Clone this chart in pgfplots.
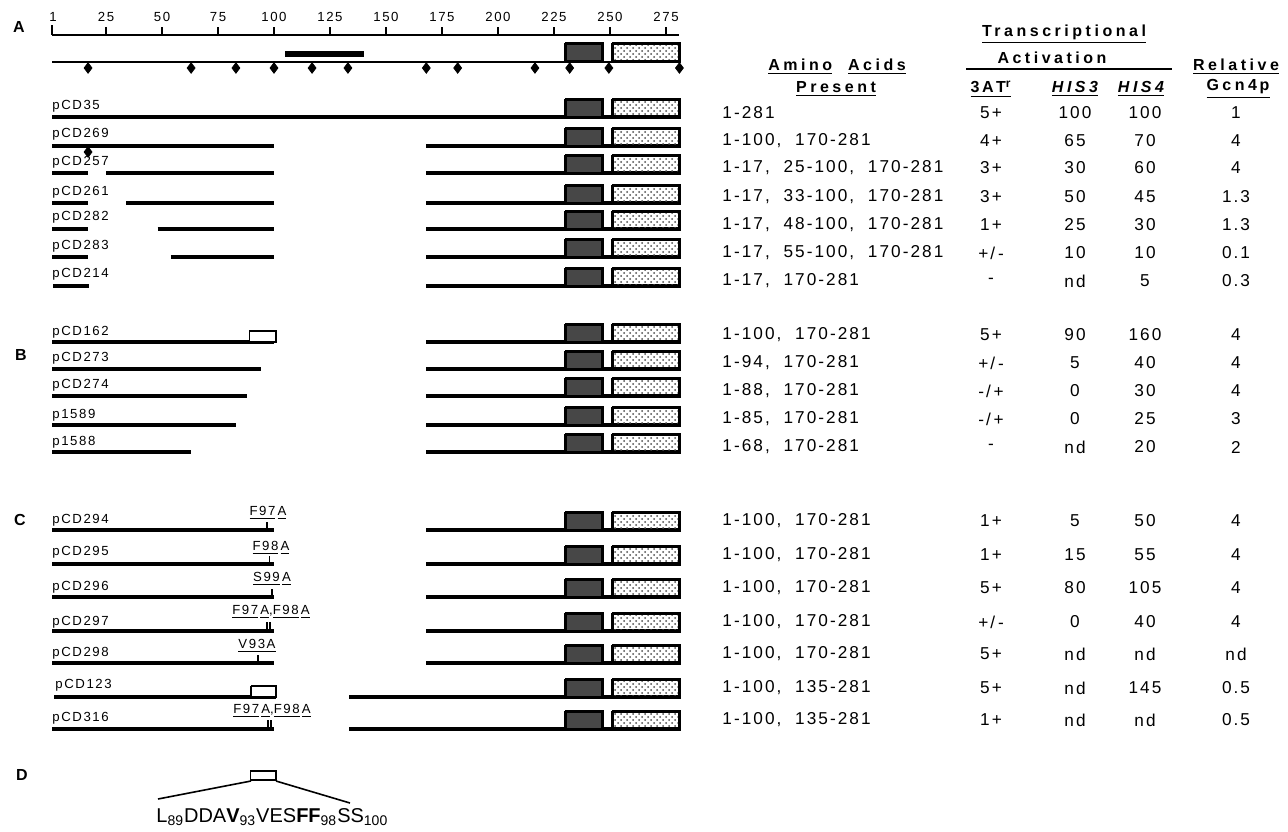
\documentclass[border=0pt]{standalone}
\usepackage{fontspec}
\setmainfont{Liberation Sans}
\newfontfamily\lsf[LetterSpace=12]{Liberation Sans}
\newfontfamily\wsf[LetterSpace=22]{Liberation Sans}
\newcommand\tabf{\lsf\fontsize{8.6}{9}\selectfont}
\usepackage{pgfplots}
\pgfplotsset{compat=1.18}
\usetikzlibrary{patterns}

% one segment of a construct (amino-acid units)
\newcommand\seg[3]{\addplot[seg] coordinates {(#1,#3) (#2,#3)};}
% the two C-terminal domains: top y, bottom y
\newcommand\dom[2]{%
  \addplot[aa, draw=black, line width=1.5pt, line join=miter, fill=black!72] coordinates {(230,#1) (246.5,#1) (246.5,#2) (230,#2) (230,#1)};
  \addplot[aa, draw=black, line width=1.5pt, line join=miter, pattern=crosshatch dots, pattern color=black!70] coordinates {(251,#1) (281,#1) (281,#2) (251,#2) (251,#1)};}
% open box 89-100
\newcommand\obox[3]{\addplot[aa, draw=black, line width=0.8pt, fill=white] coordinates {(#1,#2) (101,#2) (101,#3) (#1,#3) (#1,#2)};}
% mutation tick
\newcommand\mut[3]{\addplot[aa, black, line width=0.8pt] coordinates {(#1,#2) (#1,#3)};}
\newcommand\lab[2]{\node[anchor=west, inner sep=0pt, font=\lsf\fontsize{6.6}{7}\selectfont] at (axis cs:52,#1) {#2};}
\newcommand\trow[6]{%
  \node[anchor=west, inner sep=0pt, font=\tabf] at (axis cs:722,#1) {#2};
  \node[inner sep=0pt, font=\tabf] at (axis cs:991,#1) {#3};
  \node[inner sep=0pt, font=\tabf] at (axis cs:1075,#1) {#4};
  \node[inner sep=0pt, font=\tabf] at (axis cs:1145,#1) {#5};
  \node[inner sep=0pt, font=\tabf] at (axis cs:1236,#1) {#6};}

\begin{document}
\begin{tikzpicture}
\begin{axis}[
  scale only axis, width=644pt, height=415.5pt,
  xmin=0, xmax=1288, ymin=0, ymax=831, y dir=reverse,
  axis lines=none, clip=false,
  aa/.style={x filter/.expression={50+2.24*x}},
  seg/.style={aa, black, line width=1.8pt, line cap=butt},
]
% ---------------- ruler ----------------
\addplot[aa, black, line width=0.9pt] coordinates {(1,35) (281,35)};
\addplot[aa, black, line width=0.9pt] coordinates {(1,25) (1,35)};
\pgfplotsinvokeforeach{25,50,75,100,125,150,175,200,225,250,275}{
  \addplot[aa, black, line width=0.9pt] coordinates {(#1,27) (#1,35)};
  \node[inner sep=0pt, font=\lsf\fontsize{6.6}{7}\selectfont] at (axis cs:{50+2.24*#1},17) {#1};
}
\node[inner sep=0pt, font=\lsf\fontsize{6.6}{7}\selectfont] at (axis cs:53,17) {1};
% ---------------- wild-type schematic ----------------
\addplot[aa, black, line width=1.2pt] coordinates {(1,62) (281,62)};
\addplot[aa, black, line width=3pt] coordinates {(105,54) (140,54)};
\dom{43}{61}
\addplot[aa, only marks, mark=diamond*, mark size=2.6pt, black] coordinates {
 (17,68) (63,68) (83,68) (100,68) (117,68) (133,68) (168,68) (182,68) (216.5,68) (232,68) (249.5,68) (281,68)};
% panel letters
\node[font=\bfseries\fontsize{8}{9}\selectfont] at (axis cs:19,27) {A};
\node[font=\bfseries\fontsize{8}{9}\selectfont] at (axis cs:21,355) {B};
\node[font=\bfseries\fontsize{8}{9}\selectfont] at (axis cs:20,520) {C};
\node[font=\bfseries\fontsize{8}{9}\selectfont] at (axis cs:22,775) {D};

% ---------------- section A ----------------
\lab{106}{pCD35}  \seg{1}{281}{117} \dom{99}{117}
\lab{134}{pCD269} \seg{1}{100}{146} \seg{168}{281}{146} \dom{128}{146}
\addplot[aa, only marks, mark=diamond*, mark size=2.6pt, black] coordinates {(17,152)};
\lab{162}{pCD257} \seg{1}{17}{173} \seg{25}{100}{173} \seg{168}{281}{173} \dom{155}{173}
\lab{192}{pCD261} \seg{1}{17}{203} \seg{34}{100}{203} \seg{168}{281}{203} \dom{185}{203}
\lab{217}{pCD282} \seg{1}{17}{229} \seg{48}{100}{229} \seg{168}{281}{229} \dom{211}{229}
\lab{246}{pCD283} \seg{1}{17}{257} \seg{54}{100}{257} \seg{168}{281}{257} \dom{239}{257}
\lab{274}{pCD214} \seg{1.5}{17.5}{286} \seg{168}{281}{286} \dom{268}{286}

% ---------------- section B ----------------
\lab{332}{pCD162} \seg{1}{100}{342} \obox{89}{331}{342} \seg{168}{281}{342} \dom{324}{342}
\lab{358}{pCD273} \seg{1}{94}{369} \seg{168}{281}{369} \dom{351}{369}
\lab{385}{pCD274} \seg{1}{88}{396} \seg{168}{281}{396} \dom{378}{396}
\lab{415}{p1589}  \seg{1}{83}{425} \seg{168}{281}{425} \dom{407}{425}
\lab{442}{p1588}  \seg{1}{63}{452} \seg{168}{281}{452} \dom{434}{452}

% ---------------- section C ----------------
\lab{520}{pCD294} \seg{1}{100}{530} \mut{97}{522}{530} \seg{168}{281}{530} \dom{512}{530}
\lab{552}{pCD295} \seg{1}{100}{564} \mut{98}{556}{564} \seg{168}{281}{564} \dom{546}{564}
\lab{587}{pCD296} \seg{1}{100}{597} \mut{99}{589}{597} \seg{168}{281}{597} \dom{579}{597}
\lab{622}{pCD297} \seg{1}{100}{631} \mut{96.9}{622}{631} \mut{98.1}{622}{631} \seg{168}{281}{631} \dom{613}{631}
\lab{653}{pCD298} \seg{1}{100}{663} \mut{92.9}{655}{663} \seg{168}{281}{663} \dom{645}{663}
\node[anchor=west, inner sep=0pt, font=\lsf\fontsize{6.6}{7}\selectfont] at (axis cs:55,685) {pCD123};
\seg{2}{101}{697} \obox{89.7}{686}{697} \seg{133.5}{281}{697} \dom{679}{697}
\lab{718}{pCD316} \seg{1}{100}{729} \mut{97.3}{720}{729} \mut{98.7}{720}{729} \seg{133.5}{281}{729} \dom{711}{729}
% mutation labels
\begin{scope}[every node/.style={inner sep=0pt, font=\lsf\fontsize{6.6}{7}\selectfont}]
\node at (axis cs:268,513) {\underline{F97}\,\underline{A}};
\node at (axis cs:271,548) {\underline{F98}\,\underline{A}};
\node at (axis cs:272,579) {\underline{S99}\,\underline{A}};
\node at (axis cs:271,612) {\underline{F97}\,\underline{A},\underline{F98}\,\underline{A}};
\node at (axis cs:257,646) {\underline{V93A}};
\node at (axis cs:272,711) {\underline{F97}\,\underline{A},\underline{F98}\,\underline{A}};
\end{scope}

% ---------------- section D ----------------
\obox{89.5}{771}{780}
\addplot[black, line width=0.8pt] coordinates {(158,799) (251,781)};
\addplot[black, line width=0.8pt] coordinates {(276,781) (350,803)};
\node[anchor=base west, inner sep=0pt, font=\fontsize{10}{12}\selectfont] at (axis cs:156,822)
  {L\textsubscript{89}DDA\textbf{V}\textsubscript{93}VES\textbf{FF}\textsubscript{98}SS\textsubscript{100}};

% ---------------- table headers ----------------
\begin{scope}[every node/.style={inner sep=0pt, font=\wsf\bfseries\fontsize{8}{9}\selectfont}]
\node at (axis cs:837,67) {\underline{Amino}\ \ \underline{Acids}};
\node at (axis cs:836,89) {\underline{Present}};
\node at (axis cs:1064,34) {\underline{Transcriptional}};
\node at (axis cs:1052,58) {Activation};
\node at (axis cs:991,89) {\underline{3\,AT\textsuperscript{r}}};
\node at (axis cs:1075,89) {\underline{\itshape HIS3}};
\node at (axis cs:1141,89) {\underline{\itshape HIS4}};
\node at (axis cs:1236,67) {\underline{Relative}};
\node at (axis cs:1238,89) {\underline{Gcn4\,p}};
\end{scope}
\addplot[black, line width=0.6pt] coordinates {(966,69) (1172,69)};

% ---------------- table body ----------------
\trow{113}{1-281}{5+}{100}{100}{1}
\trow{141}{1-100,\ \ 170-281}{4+}{65}{70}{4}
\trow{168}{1-17,\ \ 25-100,\ \ 170-281}{3+}{30}{60}{4}
\trow{197}{1-17,\ \ 33-100,\ \ 170-281}{3+}{50}{45}{1.3}
\trow{225}{1-17,\ \ 48-100,\ \ 170-281}{1+}{25}{30}{1.3}
\trow{253}{1-17,\ \ 55-100,\ \ 170-281}{+/\,-}{10}{10}{0.1}
\trow{281}{1-17,\ \ 170-281}{-}{nd}{5}{0.3}

\trow{335}{1-100,\ \ 170-281}{5+}{90}{160}{4}
\trow{363}{1-94,\ \ 170-281}{+/\,-}{5}{40}{4}
\trow{391}{1-88,\ \ 170-281}{-/\,+}{0}{30}{4}
\trow{419}{1-85,\ \ 170-281}{-/\,+}{0}{25}{3}
\trow{447}{1-68,\ \ 170-281}{-}{nd}{20}{2}

\trow{521}{1-100,\ \ 170-281}{1+}{5}{50}{4}
\trow{555}{1-100,\ \ 170-281}{1+}{15}{55}{4}
\trow{588}{1-100,\ \ 170-281}{5+}{80}{105}{4}
\trow{622}{1-100,\ \ 170-281}{+/\,-}{0}{40}{4}
\trow{654}{1-100,\ \ 170-281}{5+}{nd}{nd}{nd}
\trow{688}{1-100,\ \ 135-281}{5+}{nd}{145}{0.5}
\trow{720}{1-100,\ \ 135-281}{1+}{nd}{nd}{0.5}
\end{axis}
\pgfresetboundingbox
\path[use as bounding box] (current axis.south west) rectangle (current axis.north east);
\end{tikzpicture}
\end{document}
